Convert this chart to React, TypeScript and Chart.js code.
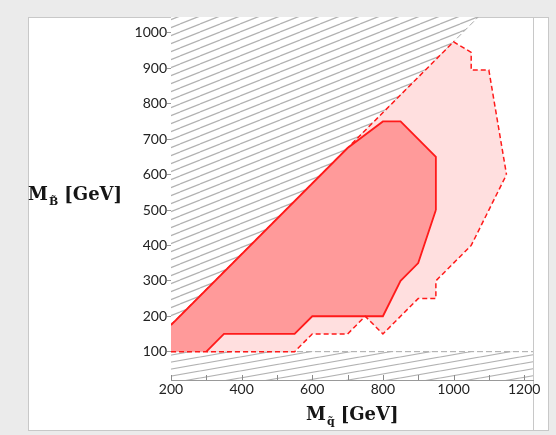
import React, { useEffect, useRef } from 'react';
import { Chart, registerables } from 'chart.js';

Chart.register(...registerables);

// Axis ranges and ticks (GeV)
const xRange = [200, 1225];
const yRange = [20, 1045];
const xTicks = [200, 300, 400, 500, 600, 700, 800, 900, 1000, 1100, 1200];
const xLabeled = [200, 400, 600, 800, 1000, 1200];
const yTicks = [100, 200, 300, 400, 500, 600, 700, 800, 900, 1000];

// Excluded regions (hatched)
const excludedDiagonal = [
  { x: 200, y: 175 },
  { x: 1070, y: 1045 },
];
const excludedFloor = [
  { x: 200, y: 100 },
  { x: 1225, y: 100 },
];

// Solid contour (dark region)
const darkUpper = [
  { x: 200, y: 175 },
  { x: 700, y: 675 },
  { x: 800, y: 750 },
  { x: 850, y: 750 },
  { x: 950, y: 650 },
  { x: 950, y: 500 },
];
const darkLower = [
  { x: 200, y: 100 },
  { x: 300, y: 100 },
  { x: 350, y: 150 },
  { x: 550, y: 150 },
  { x: 600, y: 200 },
  { x: 800, y: 200 },
  { x: 850, y: 300 },
  { x: 900, y: 350 },
  { x: 950, y: 500 },
];

// Dashed contour (light region)
const lightUpper = [
  { x: 200, y: 175 },
  { x: 1000, y: 975 },
  { x: 1050, y: 945 },
  { x: 1050, y: 895 },
  { x: 1100, y: 895 },
  { x: 1150, y: 600 },
];
const lightLower = [
  { x: 200, y: 100 },
  { x: 550, y: 100 },
  { x: 600, y: 150 },
  { x: 700, y: 150 },
  { x: 750, y: 200 },
  { x: 800, y: 150 },
  { x: 900, y: 250 },
  { x: 950, y: 250 },
  { x: 950, y: 300 },
  { x: 1050, y: 400 },
  { x: 1150, y: 600 },
];

const RED = '#ff1a1a';
const DARK_FILL = '#ff9a9a';
const LIGHT_FILL = '#ffdfdf';
const HATCH = '#b2b2b2';
const NONE = 'rgba(0,0,0,0)';

function makeHatch(w: number, h: number, color: string, lw: number) {
  const c = document.createElement('canvas');
  c.width = w;
  c.height = h;
  const g = c.getContext('2d')!;
  g.fillStyle = '#ffffff';
  g.fillRect(0, 0, w, h);
  g.strokeStyle = color;
  g.lineWidth = lw;
  for (const k of [-1, 0, 1]) {
    g.beginPath();
    g.moveTo(0, h + k * h);
    g.lineTo(w, k * h);
    g.stroke();
  }
  return g.createPattern(c, 'repeat')!;
}

const innerTicks = {
  id: 'innerTicks',
  afterDraw(chart: any) {
    const ctx = chart.ctx;
    const s = chart.scales.x;
    const b = chart.chartArea.bottom;
    ctx.save();
    ctx.strokeStyle = '#8a8a8a';
    ctx.lineWidth = 1;
    ctx.beginPath();
    for (const v of xTicks) {
      const px = Math.round(s.getPixelForValue(v)) + 0.5;
      ctx.moveTo(px, b);
      ctx.lineTo(px, b - 5);
    }
    ctx.stroke();
    ctx.restore();
  },
};

export default function App() {
  const ref = useRef<HTMLCanvasElement>(null);

  useEffect(() => {
    if (!ref.current) return;
    const hatchTop = makeHatch(20, 8, HATCH, 1.25);
    const hatchBottom = makeHatch(40, 7, HATCH, 1.2);
    const line = { pointRadius: 0, showLine: true, tension: 0 };
    const chart = new Chart(ref.current, {
      type: 'scatter',
      data: {
        datasets: [
          {
            ...line,
            data: lightLower,
            order: 0,
            borderColor: RED,
            borderWidth: 1.5,
            borderDash: [5, 3],
            fill: false,
          },
          {
            ...line,
            data: darkLower,
            order: 2,
            borderColor: NONE,
            borderWidth: 0,
            fill: false,
          },
          {
            ...line,
            data: darkUpper,
            order: 3,
            borderColor: RED,
            borderWidth: 1.8,
            backgroundColor: DARK_FILL,
            fill: 1,
          },
          {
            ...line,
            data: lightUpper,
            order: 4,
            borderColor: RED,
            borderWidth: 1.5,
            borderDash: [5, 3],
            backgroundColor: LIGHT_FILL,
            fill: 0,
          },
          {
            ...line,
            data: excludedDiagonal,
            order: 5,
            borderColor: '#a8a8a8',
            borderWidth: 1,
            borderDash: [6, 3],
            backgroundColor: hatchTop,
            fill: 'end',
          },
          {
            ...line,
            data: excludedFloor,
            order: 6,
            borderColor: '#a8a8a8',
            borderWidth: 1,
            borderDash: [6, 3],
            backgroundColor: hatchBottom,
            fill: 'start',
          },
          {
            // visible solid edge of the dark region's lower boundary
            ...line,
            data: darkLower.slice(1),
            order: 1,
            borderColor: RED,
            borderWidth: 1.8,
            fill: false,
          },
        ],
      },
      options: {
        responsive: false,
        animation: false,
        devicePixelRatio: 1,
        layout: { padding: { top: 17, right: 23, left: 0, bottom: 0 } },
        plugins: {
          legend: { display: false },
          tooltip: { enabled: false },
        },
        scales: {
          x: {
            type: 'linear',
            min: xRange[0],
            max: xRange[1],
            afterBuildTicks: (s: any) => {
              s.ticks = xTicks.map((v) => ({ value: v }));
            },
            afterFit: (s: any) => {
              s.height = 55;
            },
            grid: { display: false, drawTicks: false },
            border: { display: true, color: '#999999', width: 1 },
            ticks: {
              autoSkip: false,
              maxRotation: 0,
              padding: 1,
              color: '#222222',
              font: { family: 'Lato, "Liberation Sans", sans-serif', size: 14 },
              callback: (v: any) => (xLabeled.includes(Number(v)) ? String(v) : ''),
            },
          },
          y: {
            type: 'linear',
            min: yRange[0],
            max: yRange[1],
            afterBuildTicks: (s: any) => {
              s.ticks = yTicks.map((v) => ({ value: v }));
            },
            afterFit: (s: any) => {
              s.width = 171;
            },
            grid: {
              display: true,
              drawOnChartArea: false,
              drawTicks: true,
              tickLength: 4,
              color: '#999999',
            },
            border: { display: true, color: '#999999', width: 1 },
            ticks: {
              autoSkip: false,
              padding: 0,
              color: '#222222',
              font: { family: 'Lato, "Liberation Sans", sans-serif', size: 14 },
              callback: (v: any) => String(v),
            },
          },
        },
      },
      plugins: [innerTicks],
    });
    return () => chart.destroy();
  }, []);

  const titleFont: React.CSSProperties = {
    position: 'absolute',
    fontFamily: '"DejaVu Serif", serif',
    fontWeight: 'bold',
    fontSize: 18,
    lineHeight: '18px',
    whiteSpace: 'nowrap',
    color: '#151515',
  };
  const sub: React.CSSProperties = {
    fontSize: 11,
    position: 'relative',
    top: 5,
    marginLeft: 1,
    marginRight: 6,
  };

  return (
    <div
      style={{
        position: 'fixed',
        left: 0,
        top: 0,
        width: 556,
        height: 435,
        background: '#ebebeb',
        overflow: 'hidden',
      }}
    >
      <div
        style={{
          position: 'absolute',
          left: 28,
          top: 17,
          width: 521,
          height: 414,
          boxSizing: 'border-box',
          background: '#ffffff',
          border: '1px solid #c8c8c8',
        }}
      />
      <div
        style={{
          position: 'absolute',
          left: 533,
          top: 17,
          width: 1,
          height: 414,
          background: '#c8c8c8',
        }}
      />
      <canvas
        ref={ref}
        width={556}
        height={435}
        style={{ position: 'absolute', left: 0, top: 0 }}
      />
      <div style={{ ...titleFont, left: 28, top: 185 }}>
        M<span style={sub}>B̃</span>[GeV]
      </div>
      <div style={{ ...titleFont, left: 306, top: 405 }}>
        M<span style={sub}>q̃</span>[GeV]
      </div>
    </div>
  );
}
